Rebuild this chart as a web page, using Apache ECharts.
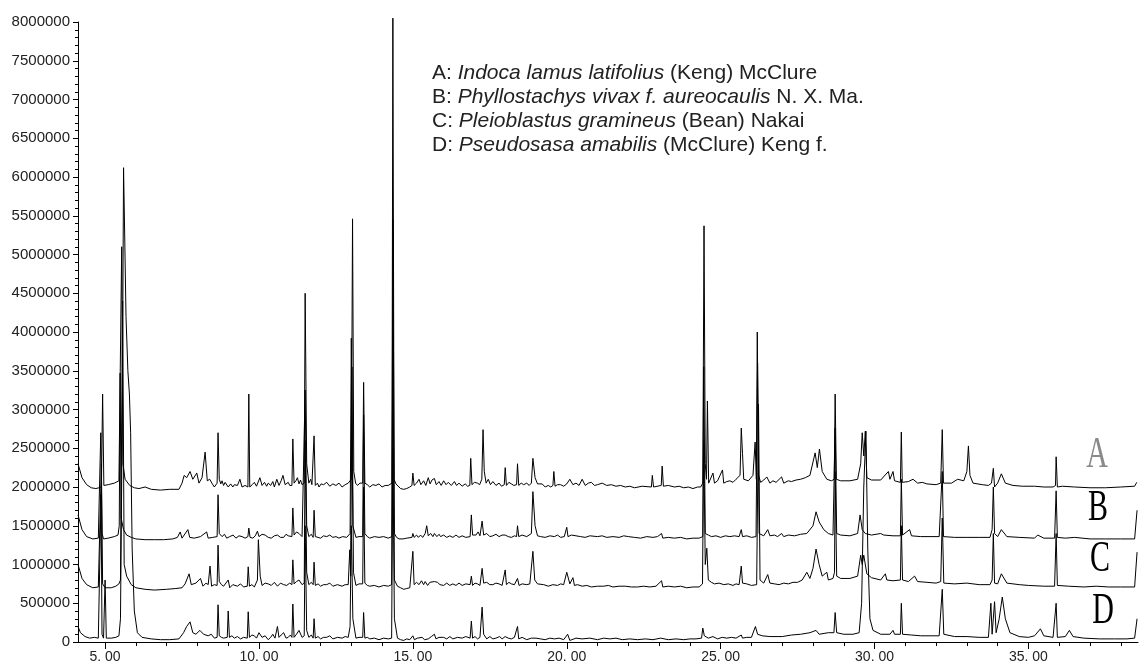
<!DOCTYPE html>
<html>
<head>
<meta charset="utf-8">
<script src="https://cdn.jsdelivr.net/npm/echarts@6/dist/echarts.min.js"></script>
<style>
  html, body { margin: 0; padding: 0; background: #fff; }
  #main { width: 1140px; height: 666px; }
</style>
</head>
<body>
<div id="main"></div>
<script>
// retention time (min), intensity (millions of counts)
const traceA = [[4.12,2.30],[4.25,2.12],[4.4,2.03],[4.55,1.99],[4.7,1.98],[4.80,1.99],
  [4.88,2.0],[4.92,3.20],[4.96,2.02],[5.1,2.03],[5.3,2.05],[5.45,2.08],
  [5.51,2.1],[5.54,5.10],[5.58,2.3],[5.65,2.1],[5.8,2.02],[5.95,1.99],[6.1,1.98],[6.3,2.0],[6.5,1.97],[6.8,1.96],[7.1,1.97],[7.4,1.97],
  [7.5,2.05],[7.57,2.15],[7.65,2.12],[7.76,2.2],[7.85,2.1],[7.98,2.18],[8.05,2.05],[8.15,2.12],[8.25,2.45],[8.32,2.08],[8.4,2.1],[8.47,2.05],[8.55,2.0],
  [8.64,2.05],[8.67,2.70],[8.71,2.1],[8.76,2.04],[8.8,2.08],[8.85,2.02],[8.9,2.06],[9.0,2.0],[9.08,2.04],[9.15,2.0],[9.2,2.03],[9.3,2.02],[9.38,2.1],[9.45,2.0],[9.55,2.02],
  [9.64,2.0],[9.67,3.20],[9.7,2.0],[9.78,2.03],[9.85,2.06],[9.92,2.01],[10.03,2.12],[10.1,2.02],[10.18,2.06],[10.25,2.01],[10.3,2.05],[10.38,2.02],[10.45,2.07],[10.5,2.0],[10.58,2.1],[10.65,2.02],[10.72,2.08],[10.78,2.15],[10.85,2.03],[10.95,2.06],[11.0,2.02],
  [11.07,2.02],[11.1,2.62],[11.14,2.05],[11.2,2.08],[11.25,2.12],[11.3,2.04],[11.35,2.09],[11.4,2.03],
  [11.47,2.05],[11.5,4.50],[11.55,2.3],[11.62,2.05],[11.68,2.1],[11.72,2.03],
  [11.76,2.03],[11.79,2.66],[11.83,2.02],[11.9,2.05],[11.95,2.0],[12.02,2.04],[12.1,2.03],[12.2,2.06],[12.3,2.01],[12.4,2.04],[12.5,2.02],[12.6,2.05],[12.7,2.0],[12.8,2.03],[12.9,2.05],
  [13.0,2.1],[13.04,5.46],[13.08,2.2],[13.14,2.05],[13.2,2.02],[13.28,2.05],
  [13.37,2.05],[13.4,3.35],[13.44,2.05],[13.52,2.03],[13.6,2.0],[13.7,2.03],[13.8,2.02],[13.9,2.04],[14.0,2.0],[14.1,2.02],[14.2,2.02],
  [14.32,2.05],[14.35,8.05],[14.39,2.1],[14.45,2.04],[14.5,2.02],[14.6,1.98],[14.7,1.97],[14.8,1.98],[14.9,2.0],
  [14.97,2.02],[15.0,2.18],[15.04,2.02],[15.12,2.05],[15.2,2.1],[15.26,2.03],[15.35,2.08],[15.42,2.02],[15.5,2.12],[15.56,2.04],[15.62,2.09],[15.7,2.11],[15.76,2.03],[15.85,2.07],[15.92,2.02],[16.0,2.08],[16.08,2.03],[16.15,2.06],[16.25,2.02],[16.35,2.07],[16.42,2.02],[16.5,2.05],[16.6,2.01],[16.7,2.04],[16.78,2.01],
  [16.85,2.02],[16.88,2.37],[16.92,2.03],[17.0,2.06],[17.1,2.05],[17.17,2.03],
  [17.24,2.1],[17.28,2.74],[17.32,2.2],[17.38,2.05],[17.45,2.1],[17.52,2.03],[17.6,2.07],[17.7,2.02],[17.8,2.05],[17.88,2.01],
  [17.97,2.03],[18.0,2.25],[18.04,2.02],[18.12,2.06],[18.2,2.04],[18.28,2.02],
  [18.37,2.03],[18.4,2.30],[18.44,2.02],[18.52,2.05],[18.6,2.03],[18.7,2.05],[18.78,2.02],
  [18.85,2.05],[18.9,2.37],[18.97,2.12],[19.05,2.04],[19.1,2.02],[19.2,2.04],[19.3,2.0],[19.4,2.02],[19.48,2.0],
  [19.55,2.02],[19.58,2.20],[19.62,2.01],[19.7,2.03],[19.8,2.03],[19.9,2.01],[20.0,2.04],[20.1,2.1],[20.2,2.03],[20.3,2.05],[20.4,2.02],[20.5,2.1],[20.6,2.02],[20.7,2.05],[20.8,2.06],[20.9,2.02],[21.0,2.03],[21.15,2.05],[21.3,2.02],[21.45,2.03],[21.6,2.01],[21.75,2.02],[21.9,2.0],[22.05,2.01],[22.2,1.99],[22.45,2.01],
  [22.75,2.0],[22.78,2.15],[22.82,2.0],
  [23.07,2.02],[23.1,2.27],[23.14,2.01],[23.3,2.02],[23.5,2.0],[23.65,2.01],[23.8,1.99],[23.95,2.0],[24.1,1.98],[24.25,2.0],[24.35,2.0],
  [24.42,2.05],[24.46,5.37],[24.5,2.3],[24.54,2.1],[24.57,3.11],[24.61,2.05],[24.75,2.18],[24.8,2.05],[24.9,2.08],[25.06,2.22],[25.1,2.05],[25.2,2.07],[25.3,2.08],[25.4,2.06],[25.5,2.1],
  [25.63,2.15],[25.67,2.76],[25.71,2.43],[25.75,2.1],[25.9,2.08],[26.05,2.15],[26.12,2.58],[26.16,2.1],
  [26.19,4.0],[26.23,2.15],[26.3,2.06],[26.4,2.09],[26.5,2.13],[26.6,2.05],[26.7,2.08],[26.8,2.06],[26.98,2.13],[27.05,2.05],[27.2,2.08],[27.3,2.07],[27.45,2.09],[27.6,2.1],[27.75,2.12],[27.9,2.15],[28.07,2.44],[28.14,2.25],[28.21,2.49],[28.3,2.2],[28.45,2.1],[28.6,2.08],
  [28.69,2.1],[28.72,3.20],[28.76,2.1],[28.9,2.08],[29.2,2.08],[29.45,2.1],[29.55,2.3],[29.6,2.7],[29.65,2.4],[29.7,2.72],[29.75,2.12],[29.9,2.09],[30.2,2.09],[30.45,2.2],[30.5,2.1],[30.6,2.2],[30.65,2.08],
  [30.84,2.06],[30.87,2.71],[30.9,2.06],[31.1,2.07],[31.25,2.1],[31.4,2.05],[31.55,2.06],[31.7,2.04],[32.0,2.03],[32.15,2.05],
  [32.2,2.74],[32.24,2.05],[32.5,2.05],[32.7,2.1],[32.9,2.08],[33.0,2.2],[33.05,2.53],[33.1,2.15],[33.2,2.05],[33.5,2.03],[33.7,2.02],[33.8,2.05],
  [33.86,2.24],[33.9,2.0],[34.0,2.05],[34.12,2.17],[34.25,2.05],[34.5,2.02],[34.8,2.01],[35.2,2.01],[35.5,2.0],[35.8,2.0],
  [35.88,2.02],[35.9,2.39],[35.94,2.0],[36.1,2.01],[36.5,2.0],[37.0,1.99],[37.5,1.99],[38.0,2.0],[38.45,2.01],[38.52,2.06]];

const traceB = [[4.12,1.64],[4.25,1.45],[4.4,1.36],[4.6,1.33],[4.78,1.34],
  [4.83,1.35],[4.86,2.70],[4.9,1.4],[4.95,1.33],[5.1,1.34],[5.3,1.36],[5.42,1.38],
  [5.46,1.5],[5.49,3.47],[5.52,1.6],[5.6,1.45],[5.7,1.38],[5.85,1.35],[6.0,1.33],[6.3,1.32],[6.6,1.32],[6.9,1.32],[7.2,1.33],[7.35,1.35],[7.44,1.42],[7.5,1.34],[7.69,1.45],[7.75,1.35],[7.9,1.34],[8.1,1.36],[8.3,1.42],[8.35,1.34],[8.5,1.35],
  [8.64,1.36],[8.67,1.90],[8.71,1.4],[8.8,1.36],[8.88,1.39],[8.95,1.34],[9.05,1.36],[9.16,1.38],[9.25,1.34],[9.35,1.37],[9.45,1.36],[9.55,1.34],
  [9.64,1.36],[9.67,1.47],[9.71,1.35],[9.8,1.34],[9.88,1.37],[9.95,1.43],[10.0,1.36],[10.1,1.39],[10.2,1.38],[10.3,1.35],[10.4,1.34],[10.5,1.37],[10.6,1.38],[10.7,1.35],[10.8,1.35],[10.88,1.39],[10.95,1.37],
  [11.07,1.36],[11.1,1.73],[11.14,1.38],[11.22,1.42],[11.3,1.4],[11.4,1.36],
  [11.46,1.36],[11.5,3.25],[11.55,1.5],[11.62,1.36],[11.7,1.39],
  [11.76,1.35],[11.79,1.70],[11.83,1.36],[11.92,1.35],[12.0,1.34],[12.1,1.37],[12.2,1.36],[12.3,1.38],[12.4,1.35],[12.5,1.36],[12.6,1.34],[12.72,1.36],[12.85,1.35],
  [12.96,1.4],[13.0,3.92],[13.05,1.5],[13.15,1.35],[13.25,1.36],
  [13.37,1.36],[13.4,2.93],[13.44,1.4],[13.52,1.36],[13.6,1.34],[13.75,1.36],[13.9,1.35],[14.05,1.36],[14.2,1.34],
  [14.32,1.36],[14.35,5.45],[14.4,1.4],[14.47,1.35],[14.55,1.33],[14.68,1.33],[14.8,1.34],
  [14.97,1.35],[15.0,1.40],[15.04,1.35],[15.12,1.38],[15.18,1.35],[15.25,1.38],[15.32,1.35],[15.4,1.4],[15.45,1.5],[15.5,1.37],[15.58,1.4],[15.65,1.36],[15.7,1.4],[15.78,1.36],[15.85,1.39],[15.9,1.36],[16.0,1.38],[16.1,1.35],[16.2,1.37],[16.3,1.35],[16.4,1.38],[16.5,1.35],[16.6,1.37],[16.72,1.35],
  [16.86,1.36],[16.9,1.64],[16.94,1.38],[17.05,1.38],[17.12,1.42],[17.18,1.37],[17.25,1.56],[17.3,1.38],[17.4,1.4],[17.5,1.36],[17.6,1.37],[17.7,1.39],[17.8,1.36],[17.9,1.38],[18.0,1.38],[18.1,1.36],[18.2,1.35],[18.3,1.37],
  [18.37,1.36],[18.4,1.50],[18.44,1.36],[18.55,1.38],[18.7,1.36],[18.85,1.4],[18.9,1.94],[18.97,1.5],[19.05,1.37],[19.15,1.36],[19.3,1.35],[19.45,1.37],[19.6,1.36],[19.7,1.38],[19.8,1.35],[19.92,1.36],
  [20.0,1.48],[20.04,1.36],[20.15,1.38],[20.3,1.37],[20.45,1.36],[20.6,1.35],[20.75,1.37],[21.0,1.36],[21.15,1.37],[21.3,1.35],[21.5,1.36],[21.7,1.35],[21.85,1.37],[22.0,1.36],[22.2,1.35],[22.4,1.34],[22.6,1.36],[22.8,1.35],[22.95,1.36],
  [23.08,1.40],[23.12,1.34],[23.3,1.35],[23.5,1.34],[23.7,1.35],[23.9,1.33],[24.1,1.34],[24.3,1.34],
  [24.42,1.36],[24.45,3.55],[24.5,1.4],[24.6,1.38],[24.7,1.36],[24.85,1.37],[25.0,1.35],[25.15,1.37],[25.3,1.36],[25.45,1.37],[25.6,1.36],
  [25.67,1.45],[25.71,1.36],[25.85,1.37],[26.0,1.35],[26.15,1.36],[26.2,3.60],[26.25,1.4],[26.4,1.37],[26.53,1.45],[26.6,1.37],[26.75,1.38],[26.85,1.36],[26.98,1.40],[27.05,1.36],[27.2,1.38],[27.4,1.37],[27.6,1.39],[27.8,1.4],[28.0,1.5],[28.1,1.68],[28.2,1.55],[28.35,1.45],[28.5,1.4],[28.65,1.38],
  [28.72,2.76],[28.77,1.4],[28.9,1.38],[29.2,1.37],[29.45,1.4],[29.53,1.64],[29.6,1.45],[29.7,1.40],[29.9,1.38],[30.2,1.4],[30.3,1.38],[30.6,1.37],
  [30.84,1.37],[30.87,2.10],[30.91,1.38],[31.14,1.45],[31.2,1.37],[31.5,1.36],[31.8,1.36],[32.1,1.36],
  [32.2,2.20],[32.24,1.36],[32.6,1.35],[33.0,1.35],[33.4,1.35],[33.75,1.35],
  [33.82,1.45],[33.86,2.00],[33.9,1.4],[34.0,1.36],[34.12,1.45],[34.3,1.36],[34.7,1.35],[35.2,1.34],[35.3,1.38],[35.5,1.34],[35.85,1.34],
  [35.9,1.95],[35.94,1.35],[36.2,1.34],[36.5,1.35],[37.0,1.33],[37.5,1.33],[38.0,1.33],[38.45,1.33],[38.53,1.70]];

const traceC = [[4.12,1.00],[4.25,0.82],[4.4,0.74],[4.6,0.70],[4.78,0.71],
  [4.84,0.72],[4.88,2.30],[4.92,0.75],[5.0,0.7],[5.2,0.7],[5.35,0.72],[5.45,0.75],
  [5.5,0.8],[5.57,4.40],[5.62,1.0],[5.7,0.85],[5.85,0.74],[6.0,0.7],[6.3,0.68],[6.6,0.67],[7.0,0.68],[7.3,0.69],[7.5,0.7],[7.6,0.75],[7.73,0.88],[7.8,0.74],[7.95,0.76],[8.1,0.82],[8.18,0.72],[8.28,0.76],[8.35,0.74],[8.41,0.98],[8.46,0.72],[8.55,0.74],
  [8.64,0.73],[8.67,1.25],[8.71,0.78],[8.78,0.74],[8.85,0.72],[9.0,0.80],[9.05,0.7],[9.15,0.74],[9.3,0.72],[9.4,0.75],[9.5,0.71],
  [9.62,0.72],[9.65,0.97],[9.69,0.72],[9.77,0.74],[9.85,0.71],[9.95,0.8],[9.98,1.32],[10.04,0.85],[10.1,0.73],[10.2,0.76],[10.3,0.75],[10.4,0.73],[10.5,0.77],[10.6,0.72],[10.7,0.76],[10.8,0.74],[10.9,0.73],[11.0,0.76],
  [11.07,0.74],[11.1,1.06],[11.14,0.75],[11.22,0.78],[11.3,0.8],[11.4,0.74],
  [11.47,0.76],[11.5,2.60],[11.55,0.9],[11.62,0.74],[11.7,0.77],
  [11.76,0.74],[11.79,1.03],[11.83,0.73],[11.92,0.75],[12.0,0.72],[12.1,0.74],[12.2,0.74],[12.3,0.76],[12.4,0.72],[12.55,0.74],[12.7,0.72],[12.8,0.74],[12.9,0.74],
  [12.95,1.19],[12.98,0.85],[13.02,3.55],[13.07,0.9],[13.15,0.73],[13.25,0.75],
  [13.37,0.75],[13.4,2.00],[13.44,0.76],[13.52,0.73],[13.6,0.72],[13.75,0.73],[13.9,0.71],[14.05,0.73],[14.2,0.72],
  [14.31,0.74],[14.35,4.00],[14.4,0.8],[14.5,0.72],[14.6,0.7],[14.7,0.68],[14.8,0.69],[14.9,0.7],
  [14.96,0.72],[15.0,1.17],[15.04,0.74],[15.12,0.77],[15.2,0.74],[15.28,0.79],[15.35,0.74],[15.4,0.78],[15.48,0.73],[15.55,0.77],[15.6,0.75],[15.7,0.78],[15.8,0.77],[15.88,0.74],[16.0,0.73],[16.1,0.76],[16.2,0.73],[16.3,0.75],[16.4,0.73],[16.5,0.76],[16.6,0.73],[16.72,0.75],
  [16.86,0.74],[16.9,0.85],[16.94,0.73],[17.02,0.76],[17.1,0.75],[17.18,0.73],[17.25,0.95],[17.3,0.76],[17.4,0.77],[17.5,0.74],[17.6,0.74],[17.7,0.76],[17.8,0.75],[17.9,0.73],
  [18.0,0.93],[18.04,0.74],[18.12,0.77],[18.2,0.75],[18.3,0.74],[18.4,0.82],[18.45,0.73],[18.55,0.75],[18.7,0.74],[18.8,0.75],
  [18.86,0.76],[18.9,1.17],[18.96,0.8],[19.05,0.75],[19.1,0.73],[19.25,0.74],[19.4,0.72],[19.55,0.74],[19.7,0.73],[19.8,0.75],[19.9,0.74],
  [20.0,0.90],[20.03,0.88],[20.1,0.75],[20.2,0.83],[20.25,0.73],[20.35,0.74],[20.5,0.72],[20.65,0.73],[20.8,0.71],[21.0,0.72],[21.2,0.72],[21.35,0.73],[21.5,0.71],[21.7,0.72],[21.9,0.72],[22.1,0.71],[22.3,0.71],[22.5,0.72],[22.7,0.71],[22.9,0.72],
  [23.08,0.79],[23.12,0.71],[23.3,0.72],[23.5,0.71],[23.7,0.72],[23.9,0.7],[24.1,0.71],[24.3,0.71],
  [24.41,0.75],[24.45,2.60],[24.5,1.0],[24.55,1.21],[24.6,0.8],[24.7,0.77],[24.8,0.75],[24.95,0.76],[25.1,0.74],[25.25,0.75],[25.4,0.73],[25.5,0.75],[25.6,0.74],
  [25.67,0.98],[25.71,0.76],[25.85,0.75],[26.0,0.73],[26.17,0.74],[26.23,3.07],[26.28,0.8],[26.4,0.76],[26.53,0.87],[26.6,0.76],[26.75,0.75],[26.9,0.74],[27.05,0.76],[27.2,0.75],[27.35,0.77],[27.5,0.77],[27.65,0.8],[27.8,0.9],[27.9,0.82],[28.0,0.95],[28.1,1.2],[28.2,1.0],[28.3,0.85],[28.45,0.9],[28.5,0.8],[28.65,0.82],
  [28.7,0.9],[28.72,2.20],[28.77,0.85],[28.9,0.82],[29.2,0.82],[29.45,0.85],[29.55,1.12],[29.6,1.0],[29.65,1.12],[29.75,0.88],[29.9,0.83],[30.2,0.8],[30.35,0.88],[30.4,0.8],[30.6,0.79],
  [30.84,0.8],[30.87,1.50],[30.91,0.8],[31.1,0.78],[31.3,0.85],[31.4,0.78],[31.7,0.77],[32.0,0.76],[32.15,0.78],
  [32.2,1.60],[32.25,0.76],[32.6,0.75],[33.0,0.76],[33.4,0.74],[33.75,0.74],
  [33.82,0.8],[33.86,1.40],[33.9,0.76],[34.0,0.75],[34.12,0.88],[34.3,0.76],[34.7,0.74],[35.0,0.73],[35.5,0.72],[35.85,0.72],
  [35.9,1.40],[35.94,0.73],[36.3,0.72],[36.8,0.71],[37.2,0.72],[37.6,0.71],[38.0,0.71],[38.45,0.71],[38.53,1.16]];

const traceD = [[4.12,0.20],[4.2,0.12],[4.35,0.07],[4.5,0.05],[4.65,0.06],[4.78,0.05],
  [4.84,0.05],[4.87,1.90],[4.9,0.1],[4.95,0.05],[5.0,0.80],[5.04,0.05],[5.2,0.05],[5.35,0.06],[5.45,0.08],
  [5.5,0.3],[5.56,3.0],[5.60,6.12],[5.63,5.42],[5.68,4.2],[5.74,3.5],[5.79,3.2],[5.83,2.7],[5.88,1.2],[5.95,0.4],[6.05,0.12],[6.2,0.06],[6.5,0.04],[6.8,0.03],[7.1,0.03],[7.4,0.04],[7.55,0.12],[7.65,0.2],[7.76,0.26],[7.85,0.12],[7.95,0.1],[8.08,0.15],[8.2,0.1],[8.35,0.08],[8.45,0.1],[8.55,0.05],
  [8.64,0.06],[8.67,0.48],[8.71,0.08],[8.78,0.06],[8.85,0.05],[8.97,0.06],[9.0,0.40],[9.04,0.06],[9.12,0.08],[9.2,0.05],[9.3,0.07],[9.4,0.04],[9.5,0.06],
  [9.62,0.05],[9.65,0.39],[9.69,0.06],[9.77,0.09],[9.85,0.08],[9.92,0.05],[10.0,0.12],[10.1,0.06],[10.2,0.08],[10.3,0.03],[10.38,0.06],[10.45,0.1],[10.52,0.05],[10.6,0.2],[10.65,0.06],[10.72,0.09],[10.8,0.12],[10.88,0.05],[10.95,0.06],[11.02,0.09],
  [11.07,0.06],[11.1,0.49],[11.14,0.06],[11.22,0.1],[11.3,0.15],[11.4,0.06],
  [11.47,0.08],[11.5,1.50],[11.55,0.15],[11.62,0.06],[11.7,0.09],
  [11.76,0.05],[11.79,0.30],[11.83,0.05],[11.92,0.07],[12.0,0.04],[12.1,0.06],[12.2,0.06],[12.3,0.08],[12.4,0.04],[12.55,0.06],[12.7,0.05],[12.8,0.07],[12.9,0.06],
  [12.96,0.2],[13.0,1.50],[13.05,0.3],[13.15,0.05],[13.25,0.06],
  [13.37,0.06],[13.4,0.38],[13.44,0.05],[13.52,0.06],[13.6,0.04],[13.75,0.05],[13.9,0.03],[14.05,0.05],[14.2,0.04],
  [14.31,0.05],[14.35,2.50],[14.4,0.3],[14.5,0.05],[14.6,0.03],[14.7,0.02],[14.8,0.04],[14.9,0.03],[15.0,0.08],[15.05,0.03],[15.15,0.05],[15.3,0.06],[15.38,0.03],[15.5,0.04],[15.6,0.07],[15.7,0.1],[15.75,0.04],[15.85,0.06],[16.0,0.06],[16.1,0.04],[16.2,0.07],[16.3,0.04],[16.45,0.06],[16.6,0.05],[16.72,0.07],
  [16.86,0.05],[16.9,0.27],[16.94,0.05],[17.02,0.07],[17.1,0.04],[17.18,0.06],[17.25,0.45],[17.3,0.1],[17.4,0.04],[17.5,0.07],[17.6,0.04],[17.7,0.05],[17.82,0.07],[17.9,0.04],[18.0,0.07],[18.1,0.05],[18.2,0.04],[18.3,0.06],
  [18.4,0.20],[18.44,0.04],[18.55,0.06],[18.7,0.03],[18.85,0.05],[19.0,0.05],[19.15,0.04],[19.3,0.03],[19.45,0.05],[19.6,0.04],[19.75,0.05],[19.9,0.03],
  [20.03,0.1],[20.1,0.02],[20.3,0.05],[20.5,0.04],[20.75,0.05],[21.0,0.03],[21.2,0.05],[21.4,0.04],[21.6,0.05],[21.8,0.03],[22.05,0.04],[22.3,0.03],[22.55,0.04],[22.8,0.03],[23.05,0.05],[23.3,0.03],[23.55,0.04],[23.8,0.03],[24.0,0.04],[24.2,0.04],
  [24.38,0.05],[24.42,0.18],[24.47,0.08],[24.6,0.05],[24.75,0.07],[24.9,0.04],[25.05,0.06],[25.2,0.05],[25.35,0.06],[25.5,0.05],
  [25.67,0.09],[25.71,0.05],[25.85,0.06],[26.0,0.06],[26.13,0.20],[26.2,0.1],[26.35,0.08],[26.6,0.07],[27.0,0.07],[27.3,0.09],[27.6,0.1],[27.9,0.12],[28.1,0.15],[28.2,0.1],[28.5,0.12],
  [28.68,0.12],[28.72,0.38],[28.77,0.12],[29.0,0.1],[29.3,0.1],[29.5,0.12],
  [29.58,0.5],[29.65,2.0],[29.72,2.72],[29.78,1.2],[29.85,0.3],[29.95,0.15],[30.2,0.1],[30.5,0.1],[30.6,0.15],[30.65,0.1],
  [30.84,0.1],[30.87,0.50],[30.91,0.1],[31.2,0.09],[31.5,0.08],[31.8,0.08],[32.1,0.08],
  [32.2,0.68],[32.25,0.1],[32.6,0.07],[33.0,0.07],[33.4,0.06],[33.7,0.06],
  [33.78,0.50],[33.82,0.1],[33.9,0.52],[33.95,0.12],[34.05,0.3],[34.15,0.58],[34.25,0.3],[34.4,0.12],[34.7,0.07],[35.0,0.06],[35.2,0.08],[35.39,0.17],[35.5,0.08],[35.8,0.06],
  [35.9,0.50],[35.94,0.06],[36.2,0.07],[36.33,0.15],[36.45,0.07],[36.8,0.05],[37.3,0.04],[37.8,0.04],[38.2,0.04],[38.45,0.05],[38.53,0.30]];

const traceNames = ['A', 'B', 'C', 'D'];
const xTickValues = [5,6,7,8,9,10,11,12,13,14,15,16,17,18,19,20,21,22,23,24,25,26,27,28,29,30,31,32,33,34,35,36,37,38];
const xLabelValues = [5, 10, 15, 20, 25, 30, 35];

const legendLines = [
  ['A: ', 'Indoca lamus latifolius', ' (Keng) McClure'],
  ['B: ', 'Phyllostachys vivax f. aureocaulis', ' N. X. Ma.'],
  ['C: ', 'Pleioblastus gramineus', ' (Bean) Nakai'],
  ['D: ', 'Pseudosasa amabilis', ' (McClure) Keng f.']
];

const myChart = echarts.init(document.getElementById('main'));

const xMin = 4.12, xMax = 38.56;

const graphics = [];
legendLines.forEach((l, i) => {
  graphics.push({
    type: 'text',
    x: 432,
    y: 73.5 + i * 24,
    style: {
      text: '{n|' + l[0] + '}{i|' + l[1] + '}{n|' + l[2] + '}',
      textVerticalAlign: 'middle',
      rich: {
        n: { fontSize: 21, fontFamily: 'Liberation Sans', fill: '#222' },
        i: { fontSize: 21, fontFamily: 'Liberation Sans', fontStyle: 'italic', fill: '#222' }
      }
    }
  });
});
// trace letters at the right
const letterPos = [[1097, 456, '#8a8a8a'], [1098, 509, '#000'], [1100, 560, '#000'], [1103, 612, '#000']];
traceNames.forEach((n, i) => {
  graphics.push({
    type: 'text',
    x: letterPos[i][0],
    y: letterPos[i][1],
    scaleY: 1.45,
    style: {
      text: n,
      textAlign: 'center',
      textVerticalAlign: 'middle',
      font: '30px "Liberation Serif"',
      fill: letterPos[i][2]
    }
  });
});

const option = {
  animation: false,
  backgroundColor: '#fff',
  grid: { left: 78, right: 2, top: 22, bottom: 24 },
  xAxis: [
    {
      type: 'value',
      min: xMin,
      max: xMax,
      axisLine: { lineStyle: { color: '#000', width: 1 } },
      axisTick: { length: 4, customValues: xTickValues, lineStyle: { color: '#000' } },
      axisLabel: { show: false },
      splitLine: { show: false }
    },
    {
      type: 'value',
      min: xMin,
      max: xMax,
      position: 'bottom',
      axisLine: { show: false },
      axisTick: { length: 7, customValues: xLabelValues, lineStyle: { color: '#000' } },
      axisLabel: {
        customValues: xLabelValues,
        margin: 8,
        color: '#222',
        fontSize: 14,
        fontFamily: 'Liberation Sans',
        formatter: v => v.toFixed(2).replace('.', '. ')
      },
      splitLine: { show: false }
    }
  ],
  yAxis: {
    type: 'value',
    min: 0,
    max: 8,
    interval: 0.5,
    axisLine: { show: true, lineStyle: { color: '#000', width: 1 } },
    axisTick: { show: true, length: 5, lineStyle: { color: '#000' } },
    minorTick: { show: true, splitNumber: 5, length: 3, lineStyle: { color: '#000' } },
    axisLabel: {
      margin: 8,
      color: '#222',
      fontSize: 15,
      fontFamily: 'Liberation Sans',
      formatter: v => String(Math.round(v * 1000000))
    },
    splitLine: { show: false }
  },
  graphic: graphics,
  series: [traceA, traceB, traceC, traceD].map((d, i) => ({
    name: traceNames[i],
    type: 'line',
    xAxisIndex: 0,
    data: d,
    symbol: 'none',
    clip: false,
    lineStyle: { color: '#000', width: 1 }
  }))
};

myChart.setOption(option);
</script>
</body>
</html>
